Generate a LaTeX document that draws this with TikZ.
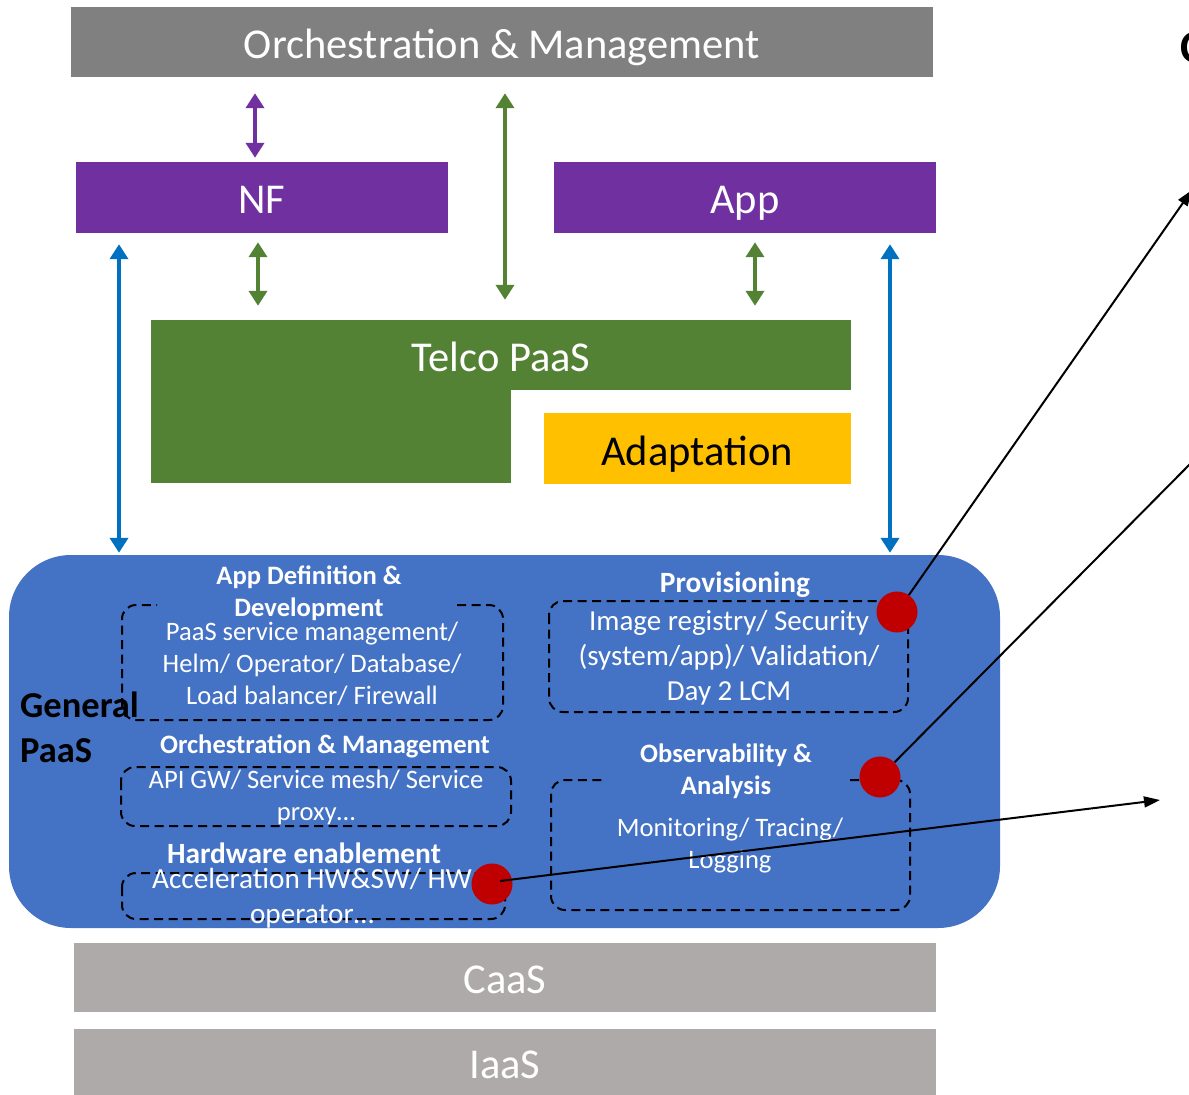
\documentclass[tikz,border=0pt]{standalone}
\usepackage{fontspec}
\setmainfont{Carlito}
\usetikzlibrary{arrows.meta}

\definecolor{orchgray}{HTML}{808080}
\definecolor{nfpurple}{HTML}{7030A0}
\definecolor{telcogreen}{HTML}{548235}
\definecolor{adaptyellow}{HTML}{FFC000}
\definecolor{paasblue}{HTML}{4472C4}
\definecolor{linkblue}{HTML}{0070C0}
\definecolor{dotred}{HTML}{C00000}
\definecolor{basegray}{HTML}{AEAAAA}

\tikzset{
  layer/.style={rectangle, inner sep=0pt, text=white},
  bigtext/.style={font=\fontsize{42.5}{50}\selectfont, text depth=0pt},
  title/.style={text=white, align=center, inner sep=0pt, font=\bfseries\fontsize{26.6}{32}\selectfont},
  bigtitle/.style={title, font=\bfseries\fontsize{29.4}{32}\selectfont},
  body/.style={text=white, align=center, inner sep=0pt, font=\fontsize{26.6}{32}\selectfont},
  group/.style={draw=black, line width=2pt, dash pattern=on 9pt off 5.5pt, rounded corners=14pt},
  dbl/.style={line width=4pt, {Triangle[width=18pt,length=15pt]}-{Triangle[width=18pt,length=15pt]}},
  uplink/.style={line width=4pt, draw=linkblue, {Triangle[width=18pt,length=15pt]}-{Triangle[width=18pt,length=15pt]}},
  marker/.style={circle, fill=dotred, minimum size=41pt, inner sep=0pt},
  callout/.style={line width=2pt, -{Triangle[width=11pt,length=16pt]}}
}

\begin{document}
\begin{tikzpicture}[x=1pt, y=-1pt]
\useasboundingbox (0,0) rectangle (1189,1095);

% top management layer
\node[layer, fill=orchgray, minimum width=862pt, minimum height=70pt] (orch) at (502,42) {};
\node[text=white, bigtext, inner sep=0pt] (orchlabel) at (502,44) {Orchestration \& Management};

% workloads
\node[layer, fill=nfpurple, bigtext, minimum width=372pt, minimum height=71pt] (nf) at (262,197.5) {};
\node[text=white, bigtext, inner sep=0pt] (nflabel) at (262,200) {NF};
\node[layer, fill=nfpurple, bigtext, minimum width=382pt, minimum height=71pt] (app) at (745,197.5) {};
\node[text=white, bigtext, inner sep=0pt] (applabel) at (745,200) {App};

% Telco PaaS (L-shaped) and adaptation
\node[layer, fill=telcogreen, minimum width=700pt, minimum height=70pt] (telco) at (501,355) {};
\fill[telcogreen] (telco.south west) rectangle (511,483);
\node[text=white, bigtext, inner sep=0pt] (telcolabel) at (501,357) {Telco PaaS};
\node[layer, fill=adaptyellow, minimum width=307pt, minimum height=71pt] (adapt) at (697.5,448.5) {};
\node[text=black, bigtext, inner sep=0pt] (adaptlabel) at (697,451) {Adaptation};

% General PaaS container
\node[rectangle, fill=paasblue, rounded corners=62pt, minimum width=991pt, minimum height=373pt, inner sep=0pt] (gp) at (504.5,741.5) {};

% infrastructure layers
\node[layer, fill=basegray, minimum width=862pt, minimum height=69pt] (caas) at (505,977.5) {};
\node[text=white, bigtext, inner sep=0pt] (caaslabel) at (505,980) {CaaS};
\node[layer, fill=basegray, minimum width=862pt, minimum height=67pt] (iaas) at (505,1062) {};
\node[text=white, bigtext, inner sep=0pt] (iaaslabel) at (505,1065) {IaaS};

% interface arrows
\draw[dbl, draw=nfpurple, fill=nfpurple, shorten <=16pt, shorten >=4pt] (255,0 |- orch.south) -- (255,0 |- nf.north);
\draw[dbl, draw=telcogreen, fill=telcogreen, shorten <=16pt, shorten >=20pt] (505,0 |- orch.south) -- (505,0 |- telco.north);
\draw[dbl, draw=telcogreen, fill=telcogreen, shorten <=9pt, shorten >=14pt] (258,0 |- nf.south) -- (258,0 |- telco.north);
\draw[dbl, draw=telcogreen, fill=telcogreen, shorten <=9pt, shorten >=14pt] (755,0 |- app.south) -- (755,0 |- telco.north);
\draw[uplink, fill=linkblue, shorten <=11pt, shorten >=2pt] (119,0 |- nf.south) -- (119,0 |- gp.north);
\draw[uplink, fill=linkblue, shorten <=11pt, shorten >=2pt] (890,0 |- app.south) -- (890,0 |- gp.north);

% dashed capability groups
\draw[group] (457,605) -- (503,605) -- (503,720) -- (122,720) -- (122,605) -- (157,605);
\draw[group] (549,601) rectangle (908,712);
\draw[group] (121,767) rectangle (511,826);
\draw[group] (122,873) rectangle (505,919);
\draw[group] (850,780) -- (910,780) -- (910,910) -- (551,910) -- (551,780) -- (602,780);

% group titles
\node[title] (tappdef) at (309,593) {App Definition \&\\Development};
\node[bigtitle] (tprov) at (735,585) {Provisioning};
\node[title] (torch) at (325,746) {Orchestration \& Management};
\node[bigtitle] (thw) at (304,853) {Hardware enablement};
\node[title] (tobs) at (726,771) {Observability \&\\Analysis};

% group contents
\node[body] (bappdef) at (312,664) {PaaS service management/\\Helm/ Operator/ Database/\\Load balancer/ Firewall};
\node[body, font=\fontsize{29}{35}\selectfont] (bprov) at (729,658) {Image registry/ Security\\(system/app)/ Validation/\\Day 2 LCM};
\node[body] (borch) at (316,797) {API GW/ Service mesh/ Service\\proxy…};
\node[body, font=\fontsize{29.2}{35}\selectfont] (bhw) at (312,898) {Acceleration HW\&SW/ HW\\operator…};
\node[body] (bobs) at (730,846) {Monitoring/ Tracing/\\Logging};

\node[anchor=west, align=left, inner sep=0pt, font=\bfseries\fontsize{36.5}{45}\selectfont] (gplabel) at (20,727) {General\\PaaS};

% callouts
\node[marker] (dprov) at (897,612) {};
\node[marker] (dobs) at (880,777) {};
\node[marker] (dhw) at (492,884) {};
\coordinate (eprov) at (1192,190);
\coordinate (eobs) at (1192,462);
\coordinate (ehw) at (1160,800);
\draw[callout] (dprov) -- (eprov);
\draw[line width=2pt] (dobs) -- (eobs);
\draw[callout] (dhw.center) ++(8,-3) -- (ehw);

\node[anchor=west, inner sep=0pt, font=\bfseries\fontsize{46}{50}\selectfont] (cut) at (1180,48) {C};
\end{tikzpicture}
\end{document}
